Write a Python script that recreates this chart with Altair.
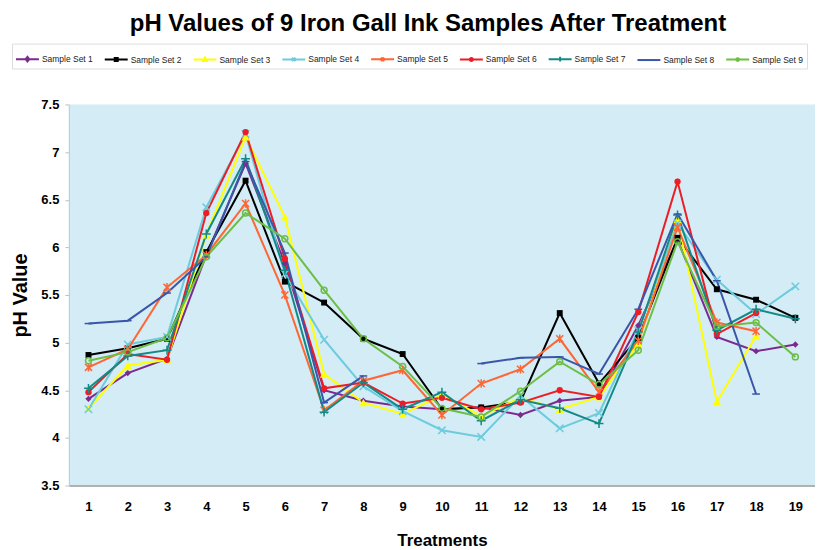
import altair as alt
import pandas as pd

treatments = list(range(1, 20))
series_names = [f"Sample Set {i}" for i in range(1, 10)]

set1 = [4.41, 4.68, 4.83, 5.92, 6.88, 5.83, 4.50, 4.39, 4.33, 4.30, 4.32, 4.24, 4.39, 4.43, 5.18, 6.08, 5.06, 4.91, 4.98]
set2 = [4.87, 4.94, 5.04, 5.95, 6.70, 5.64, 5.42, 5.04, 4.88, 4.30, 4.32, 4.38, 5.31, 4.57, 5.05, 6.10, 5.56, 5.45, 5.26]
set3 = [4.31, 4.76, 4.82, 6.13, 7.16, 6.32, 4.67, 4.37, 4.25, 4.45, 4.23, 4.42, 4.30, 4.43, 4.99, 6.29, 4.38, 5.07, None]
set4 = [4.30, 4.98, 5.06, 6.42, 7.19, 5.72, 5.03, 4.54, 4.28, 4.08, 4.01, 4.44, 4.10, 4.26, 5.13, 6.25, 5.66, 5.30, 5.59]
set5 = [4.74, 4.93, 5.58, 5.92, 6.46, 5.50, 4.29, 4.60, 4.71, 4.24, 4.57, 4.72, 5.04, 4.48, 5.02, 6.21, 5.21, 5.12, None]
set6 = [4.48, 4.88, 4.82, 6.36, 7.21, 5.88, 4.52, 4.58, 4.36, 4.42, 4.30, 4.37, 4.50, 4.43, 5.32, 6.69, 5.09, 5.31, None]
set7 = [4.52, 4.86, 4.92, 6.14, 6.93, 5.76, 4.27, 4.58, 4.30, 4.48, 4.18, 4.40, 4.31, 4.15, 5.11, 6.34, 5.13, 5.35, 5.25]
set8 = [5.20, 5.23, 5.52, 5.90, 6.90, 5.94, 4.37, 4.65, None, None, 4.78, 4.84, 4.85, 4.67, 5.35, 6.35, 5.65, 4.46, None]
set9 = [4.81, 4.90, 5.05, 5.90, 6.36, 6.09, 5.55, 5.04, 4.75, 4.31, 4.22, 4.49, 4.80, 4.56, 4.92, 6.06, 5.17, 5.21, 4.85]

all_sets = [set1, set2, set3, set4, set5, set6, set7, set8, set9]

colors = ["#7D2A8E", "#000000", "#FFFF00", "#6CCBDD", "#FF6633",
          "#EE1C24", "#138A86", "#3A56A8", "#6CBE45"]
legend_fills = ["#7D2A8E", "#000000", "#FFFF00", "#6CCBDD", "#FF6633",
                "#EE1C24", "#138A86", "#3A56A8", "#FFFFFF"]

# marker shapes on the chart (shape, filled, size)
marker_shapes = [
    "diamond",
    "square",
    "triangle-up",
    "M-1,-1L1,1M-1,1L1,-1",
    "M-1,-1L1,1M-1,1L1,-1M0,-1.2L0,1.2",
    "circle",
    "M-1.2,0L1.2,0M0,-1.2L0,1.2",
    "M-1,0L1,0",
    "circle",
]
marker_filled = [True, True, True, False, False, True, False, False, False]
marker_sizes = [40, 35, 70, 55, 50, 40, 55, 60, 35]

# legend symbols: line + marker
legend_paths = [
    "M-1,0L1,0M0,-0.2L0.16,0L0,0.2L-0.16,0Z",
    "M-1,0L1,0M-0.13,-0.13L0.13,-0.13L0.13,0.13L-0.13,0.13Z",
    "M-1,0L1,0M0,-0.19L0.17,0.13L-0.17,0.13Z",
    "M-1,0L1,0M-0.15,-0.15L0.15,0.15M-0.15,0.15L0.15,-0.15",
    "M-1,0L1,0M-0.15,-0.15L0.15,0.15M-0.15,0.15L0.15,-0.15M0,-0.17L0,0.17",
    "M-1,0L1,0M-0.14,0A0.14,0.14,0,1,1,0.14,0A0.14,0.14,0,1,1,-0.14,0Z",
    "M-1,0L1,0M0,-0.2L0,0.2",
    "M-1,0L1,0",
    "M-1,0L1,0M-0.12,0A0.12,0.12,0,1,1,0.12,0A0.12,0.12,0,1,1,-0.12,0Z",
]

rows = []
for name, vals in zip(series_names, all_sets):
    for t, v in zip(treatments, vals):
        rows.append({"Treatment": t, "Series": name, "pH": v})
df = pd.DataFrame(rows)

color_scale = alt.Scale(domain=series_names, range=colors)

x_enc = alt.X(
    "Treatment:O",
    title="Treatments",
    axis=alt.Axis(
        labelAngle=0, labelFontSize=13, labelFontWeight="bold", labelFont="Liberation Sans",
        labelColor="#000000", labelPadding=15, ticks=False, domain=True,
        domainColor="#999999", domainWidth=1.5,
        titleFontSize=17, titleFontWeight="bold", titleFont="Liberation Sans",
        titleColor="#000000", titlePadding=19,
    ),
)
y_enc = alt.Y(
    "pH:Q",
    title="pH Value",
    scale=alt.Scale(domain=[3.5, 7.5], nice=False, zero=False),
    axis=alt.Axis(
        values=[3.5, 4, 4.5, 5, 5.5, 6, 6.5, 7, 7.5], grid=False, format=".1~f",
        labelFontSize=13, labelFontWeight="bold", labelFont="Liberation Sans",
        labelColor="#000000", labelPadding=6, tickSize=4, tickColor="#C0C0C0",
        domainColor="#C8C8C8", titleFontSize=20, titleFontWeight="bold",
        titleFont="Liberation Sans", titleColor="#000000", titlePadding=10,
    ),
)

legend_props = dict(
    title=None, orient="none", legendX=-57, legendY=-61, direction="horizontal",
    columns=9, symbolSize=529, symbolStrokeWidth=2, labelFontSize=8.5,
    labelFont="Liberation Sans", labelColor="#222222", labelOffset=2,
    columnPadding=7, padding=3, strokeColor="#DDDDDD",
)

base = alt.Chart(df)

# legend-only layer (no rows drawn)
legend_layer = base.transform_filter("false").mark_point(filled=True, strokeWidth=2, opacity=1).encode(
    x=x_enc, y=y_enc,
    fill=alt.Fill("Series:N", scale=alt.Scale(domain=series_names, range=legend_fills),
                  legend=alt.Legend(**legend_props)),
    stroke=alt.Stroke("Series:N", scale=alt.Scale(domain=series_names, range=colors),
                      legend=alt.Legend(**legend_props)),
    shape=alt.Shape("Series:N", scale=alt.Scale(domain=series_names, range=legend_paths),
                    legend=alt.Legend(**legend_props)),
)

lines = base.mark_line(strokeWidth=2, invalid="break-paths-filter-domains").encode(
    x=x_enc, y=y_enc,
    color=alt.Color("Series:N", scale=color_scale, legend=None),
    detail="Series:N",
)

layers = [legend_layer, lines]
for name, shp, fld, sz in zip(series_names, marker_shapes, marker_filled, marker_sizes):
    m = base.transform_filter(alt.datum.Series == name).mark_point(
        shape=shp, filled=fld, size=sz, strokeWidth=1.5, opacity=1
    ).encode(
        x=x_enc, y=y_enc,
        color=alt.Color("Series:N", scale=color_scale, legend=None),
    )
    layers.append(m)

chart = alt.layer(*layers).properties(
    width=748, height=382,
    padding={"left": 2, "top": 3, "right": 0, "bottom": 5},
    title=alt.TitleParams(
        "pH Values of 9 Iron Gall Ink Samples After Treatment",
        fontSize=24, font="Liberation Sans", fontWeight="bold", color="#000000",
        anchor="middle", frame="group", dx=-14, offset=7,
    ),
).configure_view(fill="#D3ECF5", strokeWidth=0)

chart.save("out.html", embed_options={"renderer": "svg", "actions": False})
